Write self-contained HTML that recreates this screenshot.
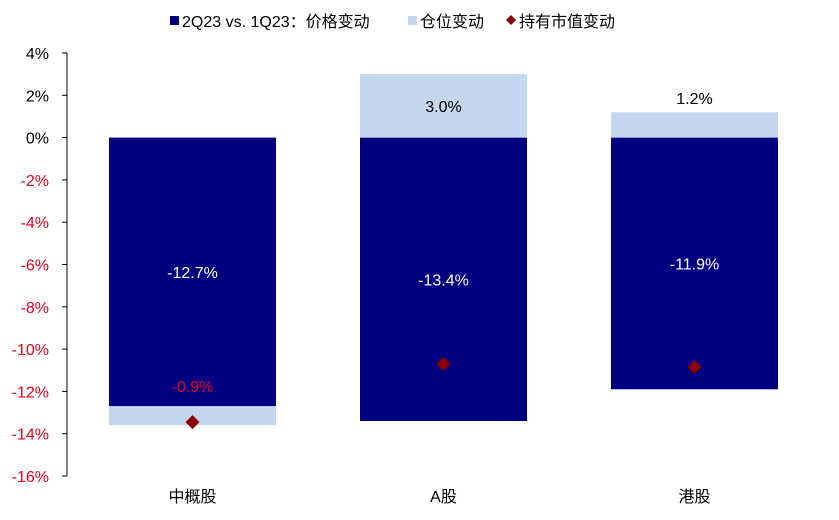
<!DOCTYPE html>
<html><head><meta charset="utf-8"><style>
body{margin:0;background:#fff;}
svg{display:block;font-family:"Liberation Sans","Noto Sans CJK SC",sans-serif;}
</style></head><body>
<svg id="chart" width="839" height="520"></svg>
<script>
const categories=["中概股","A股","港股"];
const priceChange=[-12.7,-13.4,-11.9];
const positionChange=[-0.9,3.0,1.2];
const holdingChange=[-13.45,-10.7,-10.85];
const yTicks=[4,2,0,-2,-4,-6,-8,-10,-12,-14,-16];
const svg=document.getElementById('chart');
const NS='http://www.w3.org/2000/svg';
const y0=137.6,pp=21.15,axisX=67,catW=251,barW=167;
const y=v=>y0-v*pp;
const cx=i=>axisX+catW*(i+0.5);
function mk(t,a,txt){const e=document.createElementNS(NS,t);for(const k in a)e.setAttribute(k,a[k]);if(txt!=null)e.textContent=txt;svg.appendChild(e);return e;}
// axis
let ax=mk('line',{x1:axisX,x2:axisX,y1:y(4),y2:y(-16),stroke:'#000','stroke-width':1});


yTicks.forEach(t=>{
 const tk=mk('line',{x1:axisX-5,x2:axisX,y1:y(t),y2:y(t),stroke:'#000'});
 
 
 const l=mk('text',{x:axisX-18,y:y(t)+6,'text-anchor':'end','font-size':16,fill:t<0?'#e8001c':'#000'},t+'%');
 
 
});
categories.forEach((c,i)=>{
 const x=cx(i)-barW/2;
 const p=priceChange[i],q=positionChange[i];
 const b=mk('rect',{x:x,y:y(Math.max(0,p)),width:barW,height:Math.abs(p)*pp,fill:'#000080'});
 
 
 const base=p<0&&q<0?p:0;
 const top=base+Math.max(0,q), bot=base+Math.min(0,q);
 const r=mk('rect',{x:x,y:y(top),width:barW,height:(top-bot)*pp,fill:'#c5d6ef'});
 
 
 const pl=mk('text',{x:cx(i),y:y(p/2)+6,'text-anchor':'middle','font-size':16,fill:'#fff'},p.toFixed(1)+'%');
 
 
 let ly=q<0?y(base)-14:(q*pp>30?y(q/2)+6:y(q)-8);
 const ql=mk('text',{x:cx(i),y:ly,'text-anchor':'middle','font-size':16,fill:q<0?'#e8001c':'#000'},q.toFixed(1)+'%');
 
 
 const h=holdingChange[i],hy=y(h),hx=cx(i);
 const d=mk('polygon',{points:`${hx},${hy-7} ${hx+7},${hy} ${hx},${hy+7} ${hx-7},${hy}`,fill:'#8b0000'});
 
 
 const cl=mk('text',{x:cx(i),y:502,'text-anchor':'middle','font-size':16,fill:'#000'},c);
 
 
});
// legend
const lg=[[180,'rect','#000080','2Q23 vs. 1Q23：价格变动'],[418,'rect','#c5d6ef','仓位变动'],[517,'dia','#8b0000','持有市值变动']];
lg.forEach(([x,t,c,s])=>{
 let m;
 if(t==='rect')m=mk('rect',{x:x-10,y:16,width:9,height:9,fill:c});
 else m=mk('polygon',{points:`${x-6},15 ${x-1},20 ${x-6},25 ${x-11},20`,fill:c});
 
 
 const tx=mk('text',{x:x+2,y:27,'font-size':16,fill:'#000'},s);
 
 
});
</script>
</body></html>
